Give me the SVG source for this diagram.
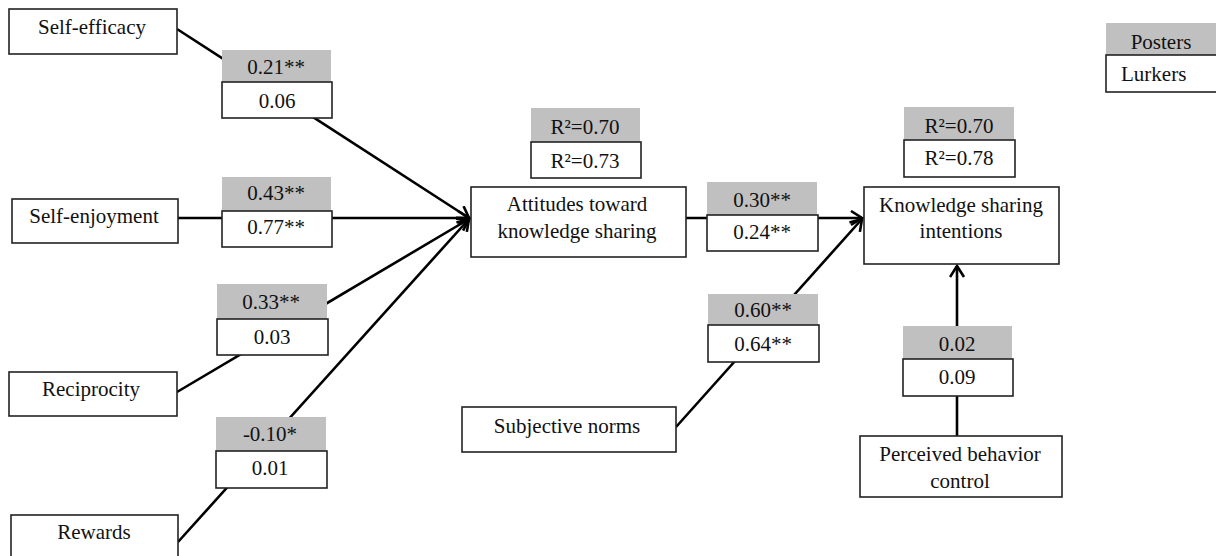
<svg xmlns="http://www.w3.org/2000/svg" width="1216" height="556" viewBox="0 0 1216 556" font-family="'Liberation Serif', 'Times New Roman', 'DejaVu Serif', serif">
<style>
.node{fill:#fff;stroke:#222;stroke-width:1.6}
.gray{fill:#c0c0c0;stroke:none}
.wbox{fill:#fff;stroke:#222;stroke-width:1.6}
text{font-family:'Liberation Serif','Times New Roman','DejaVu Serif',serif;font-size:21px;fill:#111;text-anchor:middle}
.conn{stroke:#000;stroke-width:2.6;fill:none}
</style>
<defs>
<marker id="arr" markerUnits="userSpaceOnUse" markerWidth="16" markerHeight="18" refX="12" refY="8" orient="auto">
<path d="M1,1 L12,8 L1,15" fill="none" stroke="#000" stroke-width="2.6"/>
</marker>
</defs>
<rect width="1216" height="556" fill="#fff"/>
<g id="connectors">
<line class="conn" x1="177" y1="29" x2="469" y2="218" marker-end="url(#arr)"/>
<line class="conn" x1="178" y1="218" x2="469" y2="218" marker-end="url(#arr)"/>
<line class="conn" x1="177" y1="392" x2="469" y2="219" marker-end="url(#arr)"/>
<line class="conn" x1="178" y1="542" x2="469" y2="219" marker-end="url(#arr)"/>
<line class="conn" x1="686" y1="218" x2="862" y2="218" marker-end="url(#arr)"/>
<line class="conn" x1="676" y1="427" x2="862" y2="219" marker-end="url(#arr)"/>
<line class="conn" x1="957" y1="436" x2="957" y2="266" marker-end="url(#arr)"/>
</g>
<g id="self-efficacy"><rect class="node" x="9" y="9" width="168" height="45"/><text x="92" y="34">Self-efficacy</text></g>
<g id="self-enjoyment"><rect class="node" x="12" y="199" width="166" height="44"/><text x="94" y="223">Self-enjoyment</text></g>
<g id="reciprocity"><rect class="node" x="9" y="372" width="168" height="44"/><text x="91" y="396">Reciprocity</text></g>
<g id="rewards"><rect class="node" x="11" y="515" width="167" height="50"/><text x="94" y="539">Rewards</text></g>
<g id="attitudes"><rect class="node" x="471" y="187" width="215" height="70"/><text x="577" y="211">Attitudes toward</text><text x="577" y="238">knowledge sharing</text></g>
<g id="subjective-norms"><rect class="node" x="462" y="407" width="214" height="45"/><text x="567" y="433">Subjective norms</text></g>
<g id="intentions"><rect class="node" x="864" y="187" width="195" height="77"/><text x="961" y="212">Knowledge sharing</text><text x="961" y="238">intentions</text></g>
<g id="pbc"><rect class="node" x="860" y="436" width="202" height="61"/><text x="960" y="461">Perceived behavior</text><text x="960" y="488">control</text></g>
<g id="label-se"><rect class="gray" x="222" y="50" width="109" height="32"/><text x="276" y="74">0.21**</text><rect class="wbox" x="222" y="82" width="110" height="36"/><text x="277" y="108">0.06</text></g>
<g id="label-sj"><rect class="gray" x="222" y="177" width="109" height="34"/><text x="276" y="200">0.43**</text><rect class="wbox" x="222" y="211" width="110" height="36"/><text x="276" y="234">0.77**</text></g>
<g id="label-rc"><rect class="gray" x="217" y="284" width="110" height="35"/><text x="271" y="309">0.33**</text><rect class="wbox" x="217" y="319" width="111" height="36"/><text x="272" y="344">0.03</text></g>
<g id="label-rw"><rect class="gray" x="216" y="417" width="110" height="34"/><text x="270" y="441">-0.10*</text><rect class="wbox" x="216" y="451" width="111" height="37"/><text x="270" y="475">0.01</text></g>
<g id="label-att-r2"><rect class="gray" x="531" y="108" width="109" height="34"/><text x="585" y="134">R²=0.70</text><rect class="wbox" x="531" y="142" width="110" height="36"/><text x="585" y="168">R²=0.73</text></g>
<g id="label-att-ksi"><rect class="gray" x="707" y="182" width="110" height="33"/><text x="762" y="207">0.30**</text><rect class="wbox" x="707" y="215" width="111" height="36"/><text x="762" y="239">0.24**</text></g>
<g id="label-sn"><rect class="gray" x="708" y="294" width="110" height="31"/><text x="763" y="317">0.60**</text><rect class="wbox" x="708" y="325" width="111" height="37"/><text x="763" y="351">0.64**</text></g>
<g id="label-ksi-r2"><rect class="gray" x="904" y="107" width="110" height="33"/><text x="959" y="133">R²=0.70</text><rect class="wbox" x="904" y="140" width="111" height="37"/><text x="959" y="165">R²=0.78</text></g>
<g id="label-pbc"><rect class="gray" x="903" y="326" width="109" height="33"/><text x="957" y="351">0.02</text><rect class="wbox" x="903" y="359" width="110" height="37"/><text x="957" y="384">0.09</text></g>
<g id="legend"><rect class="gray" x="1106" y="23" width="115" height="32"/><text x="1161" y="49">Posters</text><rect class="wbox" x="1106" y="55" width="115" height="37"/><text x="1121" y="81" style="text-anchor:start">Lurkers</text></g>
</svg>
